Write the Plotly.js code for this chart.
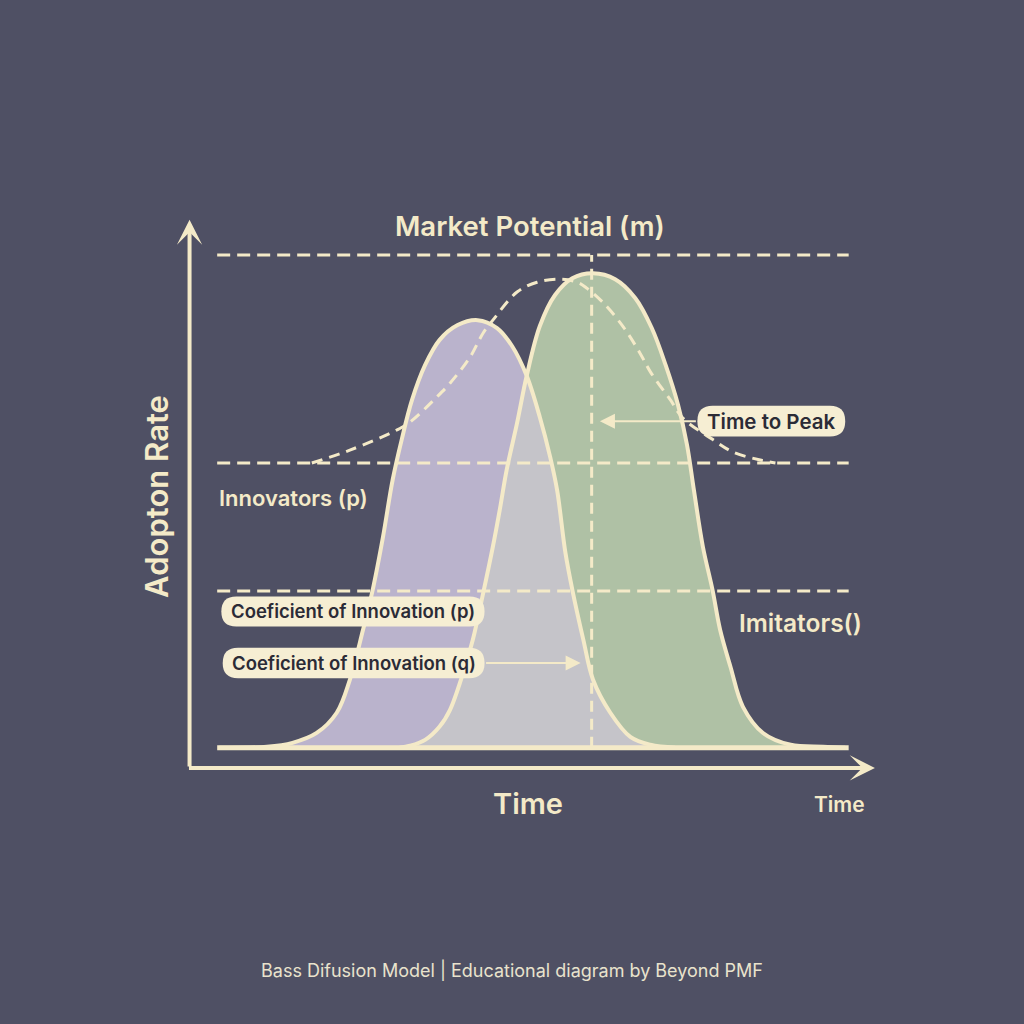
<!DOCTYPE html>
<html>
<head>
<meta charset="utf-8">
<script src="https://cdn.plot.ly/plotly-3.0.1.min.js"></script>
<style>
  html, body { margin: 0; padding: 0; background: #4f5064; }
  #chart { width: 1024px; height: 1024px; }
</style>
</head>
<body>
<div id="chart"></div>
<script>
// ---------------- data ----------------
// time axis 0..100, adoption rate 0..100 (100 = market potential m)
const innovatorsTime = [4.3, 11.2, 14.9, 18.4, 21.3, 23.2, 25.1, 26.5, 28.0, 29.4, 30.7, 32.2, 34.1, 36.2, 38.8, 41.7, 44.5, 46.7, 48.8, 50.7, 52.2, 53.2, 54.4, 55.5, 57.0, 58.4, 60.9, 63.8, 66.7, 70.3];
const innovatorsRate = [0, 0.2, 1.0, 3.0, 7.1, 13.8, 23.9, 32.0, 42.8, 54.4, 62.5, 70.6, 77.7, 82.8, 85.8, 86.8, 85.2, 81.5, 75.5, 67.1, 59.0, 52.3, 39.6, 31.4, 21.9, 13.8, 7.1, 2.2, 0.6, 0];

const imitatorsTime = [30.4, 31.9, 34.1, 36.2, 37.7, 39.6, 41.0, 42.5, 43.9, 44.9, 45.9, 47.4, 48.8, 50.7, 52.9, 55.4, 58.4, 61.6, 64.5, 66.9, 68.9, 70.7, 72.0, 73.0, 74.3, 75.7, 76.8, 78.3, 80.1, 83.0, 87.0, 91.7, 94.9];
const imitatorsRate = [0, 0.4, 1.6, 4.3, 7.7, 15.2, 21.9, 31.4, 40.8, 48.3, 56.4, 65.9, 75.5, 85.6, 91.9, 95.3, 96.3, 95.1, 91.3, 85.2, 77.7, 69.6, 61.5, 52.3, 40.8, 32.0, 23.9, 16.4, 8.3, 3.0, 0.6, 0.2, 0];

const totalTime = [17.7, 23.2, 30.0, 31.9, 35.8, 37.7, 40.6, 42.5, 43.9, 47.4, 50.3, 53.6, 56.1, 57.5, 59.9, 62.8, 65.2, 66.7, 69.6, 71.4, 75.8, 78.7, 82.6, 84.8];
const totalRate = [57.8, 60.4, 64.5, 66.1, 71.2, 74.0, 79.3, 84.2, 86.8, 92.5, 94.5, 95.1, 94.5, 93.3, 90.3, 85.4, 80.1, 76.3, 70.6, 66.9, 62.5, 60.0, 58.4, 57.8];

const marketPotential = 100;
const innovatorsLevel = 57.8;
const imitatorsLevel = 31.8;
const crossingTime = 48.8;   // where the two curves cross

// ---------------- styling ----------------
const BG = '#4f5064';
const CREAM = '#f4eac8';
const BOX = '#f6eed3';
const DARK = '#2b2b36';
const FONT = 'Inter, Roboto, "Open Sans", sans-serif';

// overlap region: imitators rising edge up to crossing, innovators falling edge after it
const overlapTime = [], overlapRate = [];
imitatorsTime.forEach((t, i) => { if (t <= crossingTime) { overlapTime.push(t); overlapRate.push(imitatorsRate[i]); } });
innovatorsTime.forEach((t, i) => { if (t > crossingTime) { overlapTime.push(t); overlapRate.push(innovatorsRate[i]); } });

// peak time of imitators
let peakIdx = 0;
imitatorsRate.forEach((v, i) => { if (v > imitatorsRate[peakIdx]) peakIdx = i; });
const peakTime = imitatorsTime[peakIdx];

const fillTrace = (x, y, color) => ({
  x, y, type: 'scatter', mode: 'lines', fill: 'tozeroy', fillcolor: color,
  line: { width: 0, shape: 'spline', smoothing: 1 }, hoverinfo: 'skip', showlegend: false
});
const edgeTrace = (x, y) => ({
  x, y, type: 'scatter', mode: 'lines',
  line: { width: 4, color: CREAM, shape: 'spline', smoothing: 1 }, hoverinfo: 'skip', showlegend: false
});

const traces = [
  fillTrace(innovatorsTime, innovatorsRate, '#bab3cc'),
  fillTrace(imitatorsTime, imitatorsRate, '#afc1a5'),
  fillTrace(overlapTime, overlapRate, '#c5c4c9'),
  edgeTrace(innovatorsTime, innovatorsRate),
  edgeTrace(imitatorsTime, imitatorsRate),
  {
    x: totalTime, y: totalRate, type: 'scatter', mode: 'lines',
    line: { width: 3, color: CREAM, dash: '11px,7px', shape: 'spline', smoothing: 1 },
    hoverinfo: 'skip', showlegend: false
  }
];

// pixel scale of the axes (for rounded label boxes)
const PXX = 760 / 110, PXY = 601 / 122;
function pill(x0, x1, y0, y1) {
  const ry = (y1 - y0) / 2;
  const rx = ry * PXY / PXX;
  return `M${x0 + rx},${y0} L${x1 - rx},${y0} Q${x1},${y0} ${x1},${y0 + ry} Q${x1},${y1} ${x1 - rx},${y1} ` +
         `L${x0 + rx},${y1} Q${x0},${y1} ${x0},${y0 + ry} Q${x0},${y0} ${x0 + rx},${y0} Z`;
}

const hline = (y, dash) => ({
  type: 'line', xref: 'x', yref: 'y', x0: 4.0, x1: 95.4, y0: y, y1: y,
  line: { color: CREAM, width: 3, dash: dash }, layer: 'above'
});

const shapes = [
  hline(marketPotential, '13px,7px'),
  hline(innovatorsLevel, '13px,7px'),
  hline(imitatorsLevel, '13px,7px'),
  { type: 'line', xref: 'x', yref: 'y', x0: peakTime - 0.2, x1: peakTime - 0.2, y0: 0, y1: marketPotential,
    line: { color: CREAM, width: 3, dash: '11px,7px' }, layer: 'above' },
  { type: 'line', xref: 'x', yref: 'y', x0: 4.0, x1: 95.4, y0: 0, y1: 0,
    line: { color: CREAM, width: 5 }, layer: 'above' },
  { type: 'path', xref: 'x', yref: 'y', path: pill(4.6, 42.7, 24.6, 30.7), fillcolor: BOX, line: { width: 0 }, layer: 'above' },
  { type: 'path', xref: 'x', yref: 'y', path: pill(4.8, 42.7, 14.1, 20.3), fillcolor: BOX, line: { width: 0 }, layer: 'above' },
  { type: 'path', xref: 'x', yref: 'y', path: pill(73.5, 94.9, 63.2, 69.4), fillcolor: BOX, line: { width: 0 }, layer: 'above' }
];

const txt = (x, y, text, size, color, extra) => Object.assign({
  x, y, xref: 'x', yref: 'y', text, showarrow: false,
  font: { family: FONT, size, color, weight: 600 }
}, extra || {});

const ptxt = (x, y, text, size, color, weight) => ({
  x, y, xref: 'paper', yref: 'paper', xanchor: 'center', yanchor: 'middle', text, showarrow: false,
  font: { family: FONT, size, color, weight }
});

const arrow = (x, y, ax, ay, width, head, size) => ({
  x, y, ax, ay, xref: 'x', yref: 'y', axref: 'x', ayref: 'y', text: '',
  showarrow: true, arrowhead: head, arrowsize: size, arrowwidth: width, arrowcolor: CREAM, standoff: 0, startstandoff: 0
});

const annotations = [
  // axes
  arrow(0, 107.2, 0, -4.1, 4, 3, 1.05),
  arrow(99.2, -4.1, -0.3, -4.1, 4, 3, 1.05),
  // pointer arrows
  arrow(59.4, 66.3, 73.5, 66.3, 2, 2, 1.5),
  arrow(56.6, 17.2, 42.7, 17.2, 2, 2, 1.5),
  // texts
  txt(49.3, 106.0, 'Market Potential (m)', 27.5, CREAM),
  txt(-4.8, 51.0, 'Adopton Rate', 31, CREAM, { textangle: -90 }),
  txt(4.0, 50.6, 'Innovators (p)', 22, CREAM, { xanchor: 'left' }),
  txt(23.6, 27.7, 'Coeficient of Innovation (p)', 18.5, DARK),
  txt(23.8, 17.2, 'Coeficient of Innovation (q)', 18.5, DARK),
  txt(84.2, 66.3, 'Time to Peak', 20.5, DARK),
  txt(79.3, 25.4, 'Imitators()', 24.5, CREAM, { xanchor: 'left' }),
  ptxt(0.4908, -0.010, 'Time', 29, CREAM, 600),
  ptxt(0.9013, -0.012, 'Time', 21, CREAM, 600),
  ptxt(0.4697, -0.288, 'Bass Difusion Model | Educational diagram by Beyond PMF', 18, '#e9e3cd', 400)
];

const layout = {
  width: 1024, height: 1024,
  paper_bgcolor: BG, plot_bgcolor: BG,
  margin: { l: 155, r: 109, t: 196, b: 227 },
  xaxis: { range: [-5, 105], visible: false, fixedrange: true },
  yaxis: { range: [-10, 112], visible: false, fixedrange: true },
  showlegend: false,
  shapes, annotations
};

Plotly.newPlot('chart', traces, layout, { displayModeBar: false, staticPlot: true });
</script>
</body>
</html>
